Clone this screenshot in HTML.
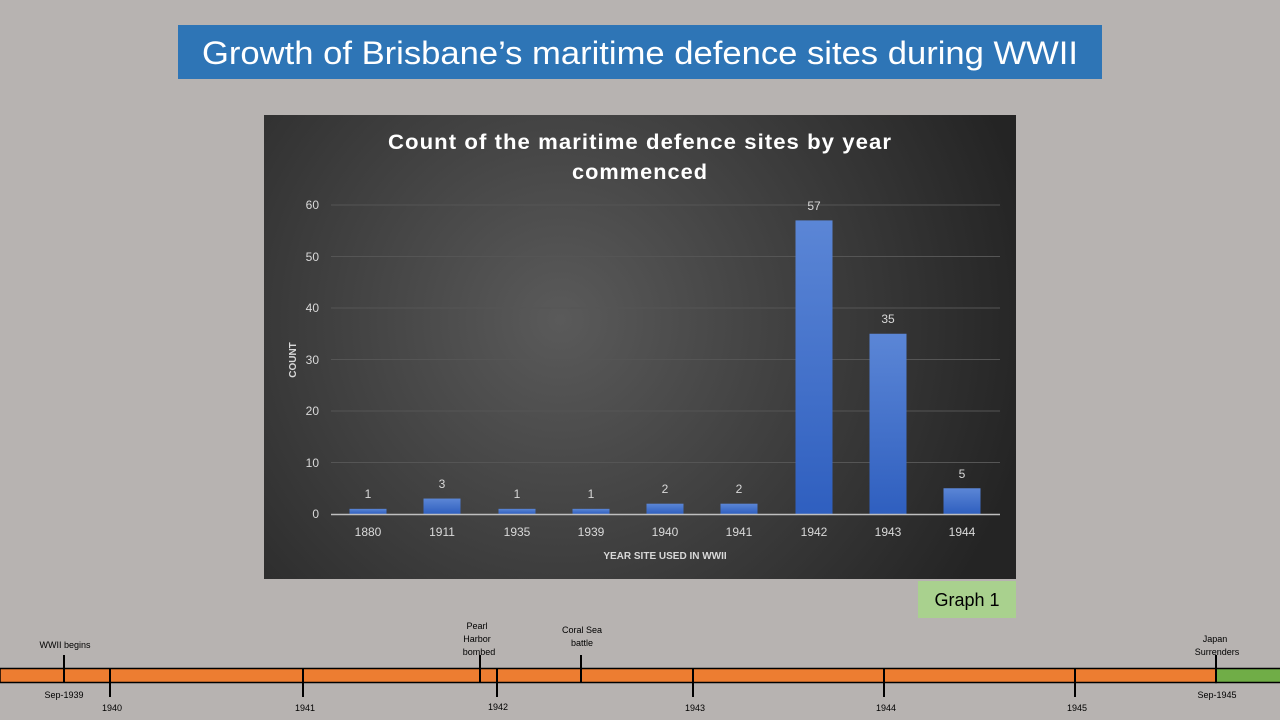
<!DOCTYPE html>
<html><head><meta charset="utf-8"><style>html,body{margin:0;padding:0;background:#b7b3b1;}svg{display:block}</style></head>
<body>
<svg width="1280" height="720" xmlns="http://www.w3.org/2000/svg" font-family="Liberation Sans, sans-serif">
<defs>
<radialGradient id="bg" cx="560" cy="320" r="480" gradientUnits="userSpaceOnUse">
<stop offset="0" stop-color="#5a5a5a"/><stop offset="1" stop-color="#242424"/>
</radialGradient>
<linearGradient id="bar" x1="0" y1="0" x2="0" y2="1">
<stop offset="0" stop-color="#5b86d6"/><stop offset="1" stop-color="#2f5fbf"/>
</linearGradient>
</defs>
<rect width="1280" height="720" fill="#b7b3b1"/>
<rect x="178" y="25" width="924" height="54" fill="#2e75b6"/>
<text x="640" y="64" text-anchor="middle" fill="#fff" font-size="32" textLength="876" lengthAdjust="spacingAndGlyphs">Growth of  Brisbane’s maritime defence sites during WWII</text>

<rect x="264" y="115" width="752" height="464" fill="url(#bg)"/>
<g fill="#fff" font-weight="bold" font-size="21" text-anchor="middle" letter-spacing="1">
<text x="640" y="149" textLength="504" lengthAdjust="spacingAndGlyphs">Count of the maritime defence sites by year</text>
<text x="640" y="179" textLength="136" lengthAdjust="spacingAndGlyphs">commenced</text>
</g>
<g stroke="#555" stroke-width="1">
<line x1="331" y1="205" x2="1000" y2="205"/><line x1="331" y1="256.5" x2="1000" y2="256.5"/>
<line x1="331" y1="308" x2="1000" y2="308"/><line x1="331" y1="359.5" x2="1000" y2="359.5"/>
<line x1="331" y1="411" x2="1000" y2="411"/><line x1="331" y1="462.5" x2="1000" y2="462.5"/>
</g>
<g fill="#d9d9d9" font-size="12" text-anchor="end">
<text x="319" y="209">60</text><text x="319" y="261">50</text><text x="319" y="312">40</text>
<text x="319" y="364">30</text><text x="319" y="415">20</text><text x="319" y="467">10</text><text x="319" y="518">0</text>
</g>
<g fill="url(#bar)">
<rect x="349.5" y="508.85" width="37" height="5.15"/>
<rect x="423.5" y="498.55" width="37" height="15.45"/>
<rect x="498.5" y="508.85" width="37" height="5.15"/>
<rect x="572.5" y="508.85" width="37" height="5.15"/>
<rect x="646.5" y="503.7" width="37" height="10.3"/>
<rect x="720.5" y="503.7" width="37" height="10.3"/>
<rect x="795.5" y="220.4" width="37" height="293.6"/>
<rect x="869.5" y="333.75" width="37" height="180.25"/>
<rect x="943.5" y="488.25" width="37" height="25.75"/>
</g>
<line x1="331" y1="514.5" x2="1000" y2="514.5" stroke="#bfbfbf" stroke-width="1.5"/>
<g fill="#d9d9d9" font-size="12" text-anchor="middle">
<text x="368" y="498">1</text><text x="442" y="488">3</text><text x="517" y="498">1</text>
<text x="591" y="498">1</text><text x="665" y="493">2</text><text x="739" y="493">2</text>
<text x="814" y="210">57</text><text x="888" y="323">35</text><text x="962" y="478">5</text>
<text x="368" y="536">1880</text><text x="442" y="536">1911</text><text x="517" y="536">1935</text>
<text x="591" y="536">1939</text><text x="665" y="536">1940</text><text x="739" y="536">1941</text>
<text x="814" y="536">1942</text><text x="888" y="536">1943</text><text x="962" y="536">1944</text>
</g>
<text x="665" y="559" fill="#d9d9d9" font-size="10" font-weight="bold" text-anchor="middle">YEAR SITE USED IN  WWII</text>
<text x="296" y="360" fill="#d9d9d9" font-size="10" font-weight="bold" text-anchor="middle" transform="rotate(-90 296 360)">COUNT</text>

<rect x="918" y="581" width="98" height="37" fill="#a9d18e"/>
<text x="967" y="606" text-anchor="middle" font-size="18" fill="#000">Graph 1</text>

<rect x="0" y="668.5" width="1216" height="14" fill="#ed7d31" stroke="#000" stroke-width="1.5"/>
<rect x="1216" y="668.5" width="66" height="14" fill="#70ad47" stroke="#000" stroke-width="1.5"/>
<g stroke="#000" stroke-width="2">
<line x1="64" y1="655" x2="64" y2="682"/><line x1="480" y1="655" x2="480" y2="682"/>
<line x1="581" y1="655" x2="581" y2="682"/><line x1="1216" y1="655" x2="1216" y2="682"/>
<line x1="110" y1="668" x2="110" y2="697"/><line x1="303" y1="668" x2="303" y2="697"/>
<line x1="497" y1="668" x2="497" y2="697"/><line x1="693" y1="668" x2="693" y2="697"/>
<line x1="884" y1="668" x2="884" y2="697"/><line x1="1075" y1="668" x2="1075" y2="697"/>
</g>
<g font-size="9" fill="#000" text-anchor="middle">
<text x="65" y="648">WWII begins</text>
<text x="477" y="629">Pearl</text><text x="477" y="642">Harbor</text><text x="479" y="655">bombed</text>
<text x="582" y="633">Coral Sea</text><text x="582" y="646">battle</text>
<text x="1215" y="642">Japan</text><text x="1217" y="655">Surrenders</text>
<text x="64" y="698">Sep-1939</text><text x="1217" y="698">Sep-1945</text>
<text x="112" y="711">1940</text><text x="305" y="711">1941</text><text x="498" y="710">1942</text>
<text x="695" y="711">1943</text><text x="886" y="711">1944</text><text x="1077" y="711">1945</text>
</g>
</svg>
</body></html>
